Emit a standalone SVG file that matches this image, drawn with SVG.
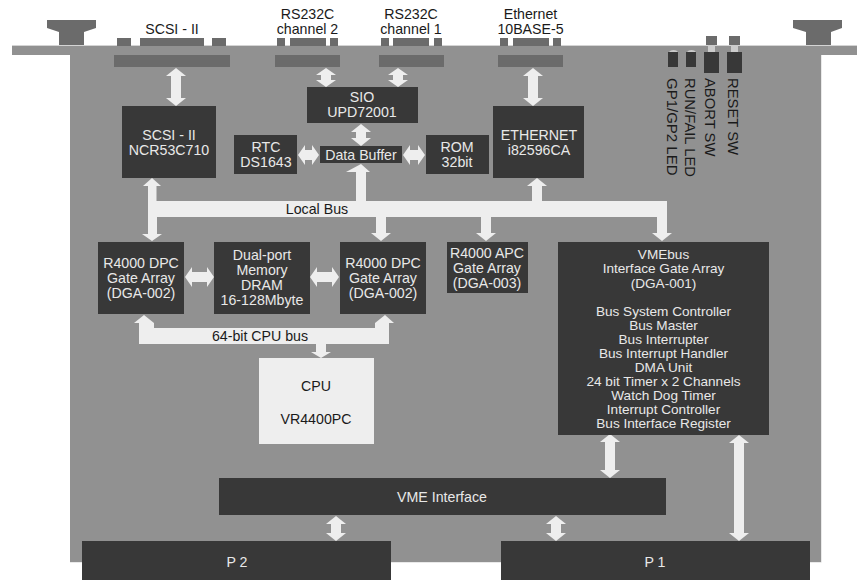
<svg xmlns="http://www.w3.org/2000/svg" width="857" height="580" viewBox="0 0 857 580">
<style>
text{font-family:"Liberation Sans",Arial,sans-serif;font-size:14.2px;text-anchor:middle}
.d{fill:#383838}.c{fill:#6b6b6b}.a{fill:#eeeeee}.l{fill:#e8e8e8}.k{fill:#1a1a1a}
.v{text-anchor:start;font-size:14.8px}
.s{font-size:13.6px}
.n{fill:#cccccc}
</style>
<rect width="857" height="580" fill="#ffffff"/>
<g id="board">
<path d="M12 45H857V55H821.500V562.500H70V55H12Z" fill="#d4d4d4"/>
<path d="M12 46H857V55H821V562H70V55H12Z" fill="#919191"/>
<path class="c" d="M47 20H96V28L84 32V45H59V32L47 28Z"/>
<path class="c" d="M793 20H842V28L831 32V45H806V32L793 28Z"/>
</g>
<g id="connectors">
<path class="a" d="M148 201V186H143L152 178L161 186H156.500V201H356V172H346L361 164L370 172H366V201H532V186H527L537 178L547 186H542V201H667V233H672L662 241L652 233H657V217H491V233H496L486 241L476 233H481V217H386V233H391L381 241L371 233H376V217H157V234H162L152 241L142 234H148Z"/>
<path class="a" d="M139 344V323H134L144 315L154 323V328H375V323L385 315L394 323H389V344H326V352H331L321 358L311 352H316V344Z"/>
<path class="a" d="M176 68l10 8h-5V98h5l-10 8l-10-8h5V76h-5z"/>
<path class="a" d="M326 68l10 7h-5v5h5l-10 7l-10-7h5v-5h-5z"/>
<path class="a" d="M398 68l10 7h-5v5h5l-10 7l-10-7h5v-5h-5z"/>
<path class="a" d="M361 124l10 8h-5v6h5l-10 8l-10-8h5v-6h-5z"/>
<path class="a" d="M533 68l10 8h-5V98h5l-10 8l-10-8h5V76h-5z"/>
<path class="a" d="M298 155l7-10v5h7v-5l7 10l-7 10v-5h-7v5z"/>
<path class="a" d="M403 155l7-10v5h8v-5l7 10l-7 10v-5h-8v5z"/>
<path class="a" d="M185 277l7-10v5h15v-5l7 10l-7 10v-5h-15v5z"/>
<path class="a" d="M310 277l7-10v5h15v-5l7 10l-7 10v-5h-15v5z"/>
<path class="a" d="M610 434l10 8h-5V470h5l-10 8l-10-8h5V442h-5z"/>
<path class="a" d="M739 435l10 8h-5V533h5l-10 8l-10-8h5V443h-5z"/>
<path class="a" d="M556 516l10 8h-5v9h5l-10 8l-10-8h5v-9h-5z"/>
<path class="a" d="M336 516l10 8h-5v9h5l-10 8l-10-8h5v-9h-5z"/>
</g>
<g id="conn-scsi"><rect class="c" x="117" y="38" width="14" height="8"/><rect class="c" x="140" y="38" width="64" height="8"/><rect class="c" x="212" y="38" width="14" height="8"/><rect class="c" x="114" y="55" width="116" height="12"/><text class="k" x="172" y="34">SCSI - II</text></g>
<g id="conn-ch2"><rect class="c" x="277" y="38" width="8" height="8"/><rect class="c" x="290" y="38" width="36" height="8"/><rect class="c" x="330" y="38" width="8" height="8"/><rect class="c" x="275" y="55" width="65" height="12"/><text class="k" x="307.500" y="19">RS232C</text><text class="k" x="307.500" y="34">channel 2</text></g>
<g id="conn-ch1"><rect class="c" x="381" y="38" width="8" height="8"/><rect class="c" x="393" y="38" width="36" height="8"/><rect class="c" x="434" y="38" width="8" height="8"/><rect class="c" x="379" y="55" width="65" height="12"/><text class="k" x="411" y="19">RS232C</text><text class="k" x="411" y="34">channel 1</text></g>
<g id="conn-eth"><rect class="c" x="500" y="38" width="8" height="8"/><rect class="c" x="513" y="38" width="36" height="8"/><rect class="c" x="553" y="38" width="8" height="8"/><rect class="c" x="498" y="55" width="65" height="12"/><text class="k" x="530.500" y="19">Ethernet</text><text class="k" x="530.500" y="34">10BASE-5</text></g>
<g id="led-gp"><path class="n" d="M669 52a5 3.500 0 0 1 9 0Z"/><rect class="d" x="668" y="52" width="10" height="15"/><text class="k v" style="font-size:15px" transform="translate(666.500 78) rotate(90)">GP1/GP2 LED</text></g>
<g id="led-run"><path class="n" d="M687 52a5 3.500 0 0 1 9 0Z"/><rect class="d" x="686" y="52" width="10" height="15"/><text class="k v" transform="translate(684.500 78) rotate(90)">RUN/FAIL LED</text></g>
<g id="sw-abort"><rect class="c" x="706" y="36" width="11" height="9"/><rect class="n" x="708" y="45" width="7" height="7"/><rect class="d" x="704" y="52" width="15" height="21"/><text class="k v" transform="translate(705 78) rotate(90)">ABORT SW</text></g>
<g id="sw-reset"><rect class="c" x="729" y="36" width="11" height="9"/><rect class="n" x="731" y="45" width="7" height="7"/><rect class="d" x="727" y="52" width="15" height="21"/><text class="k v" transform="translate(727.500 78) rotate(90)">RESET SW</text></g>
<g id="scsi"><rect class="d" x="122" y="106" width="94" height="72"/><text class="l" x="169" y="140">SCSI - II</text><text class="l" x="169" y="155">NCR53C710</text></g>
<g id="sio"><rect class="d" x="307" y="87" width="111" height="36"/><text class="l" x="362" y="102">SIO</text><text class="l" x="362" y="117">UPD72001</text></g>
<g id="rtc"><rect class="d" x="234" y="135" width="63" height="39"/><text class="l" x="266" y="152">RTC</text><text class="l" x="266" y="167">DS1643</text></g>
<g id="buffer"><rect class="d" x="320" y="146" width="82" height="17"/><text class="l" x="361" y="160">Data Buffer</text></g>
<g id="rom"><rect class="d" x="426" y="135" width="63" height="39"/><text class="l" x="457" y="152">ROM</text><text class="l" x="457" y="167">32bit</text></g>
<g id="ethernet"><rect class="d" x="493" y="106" width="91" height="72"/><text class="l" x="539" y="140">ETHERNET</text><text class="l" x="539" y="155">i82596CA</text></g>
<g id="dpc-left"><rect class="d" x="98" y="242" width="86" height="72"/><text class="l" x="141" y="268">R4000 DPC</text><text class="l" x="141" y="283">Gate Array</text><text class="l" x="141" y="298">(DGA-002)</text></g>
<g id="dram"><rect class="d" x="214" y="242" width="96" height="72"/><text class="l" x="262" y="260">Dual-port</text><text class="l" x="262" y="275">Memory</text><text class="l" x="262" y="290">DRAM</text><text class="l" x="262" y="305">16-128Mbyte</text></g>
<g id="dpc-right"><rect class="d" x="340" y="242" width="86" height="72"/><text class="l" x="383" y="268">R4000 DPC</text><text class="l" x="383" y="283">Gate Array</text><text class="l" x="383" y="298">(DGA-002)</text></g>
<g id="apc"><rect class="d" x="447" y="242" width="81" height="51"/><text class="l" x="487" y="258">R4000 APC</text><text class="l" x="487" y="273">Gate Array</text><text class="l" x="487" y="288">(DGA-003)</text></g>
<g id="vme-gate"><rect class="d" x="558" y="242" width="211" height="193"/>
<text class="l s" x="663.500" y="259">VMEbus</text><text class="l s" x="663.500" y="273">Interface Gate Array</text><text class="l s" x="663.500" y="288">(DGA-001)</text>
<text class="l s" x="663.500" y="316">Bus System Controller</text><text class="l s" x="663.500" y="330">Bus Master</text><text class="l s" x="663.500" y="344">Bus Interrupter</text><text class="l s" x="663.500" y="358">Bus Interrupt Handler</text><text class="l s" x="663.500" y="372">DMA Unit</text><text class="l s" x="663.500" y="386">24 bit Timer x 2 Channels</text><text class="l s" x="663.500" y="400">Watch Dog Timer</text><text class="l s" x="663.500" y="414">Interrupt Controller</text><text class="l s" x="663.500" y="428">Bus Interface Register</text></g>
<g id="cpu"><rect class="a" x="259" y="358" width="115" height="86"/><text class="k" x="316" y="391">CPU</text><text class="k" x="316" y="424">VR4400PC</text></g>
<g id="vme-if"><rect class="d" x="219" y="478" width="447" height="37"/><text class="l" x="442" y="502">VME Interface</text></g>
<g id="p2"><rect class="d" x="82" y="541" width="309" height="39"/><text class="l" x="237" y="567">P 2</text></g>
<g id="p1"><rect class="d" x="501" y="541" width="309" height="39"/><text class="l" x="655" y="567">P 1</text></g>
<g id="bus-labels"><text class="k" x="317" y="214">Local Bus</text><text class="k" x="260" y="341">64-bit CPU bus</text></g>
</svg>
